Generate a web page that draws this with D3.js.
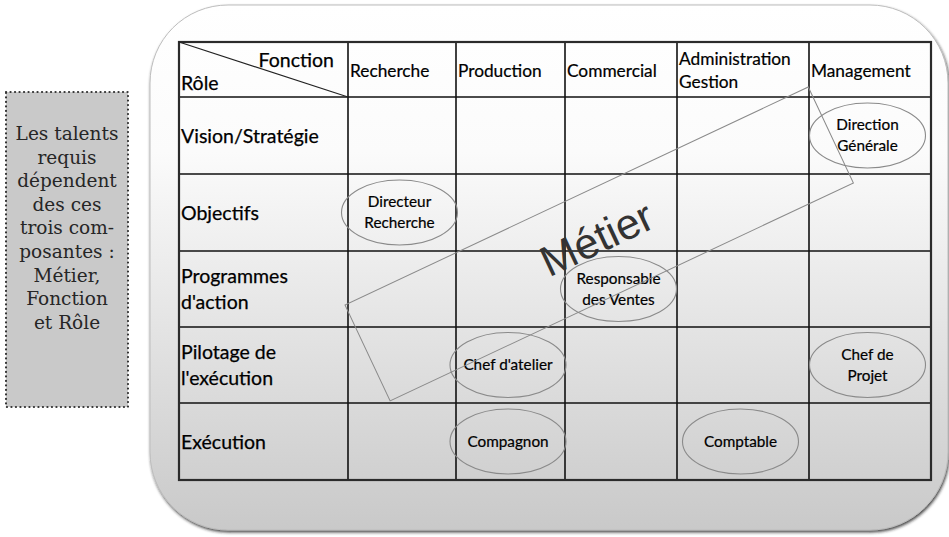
<!DOCTYPE html>
<html>
<head>
<meta charset="utf-8">
<script src="https://cdn.jsdelivr.net/npm/d3@7"></script>
<style>
html,body{margin:0;padding:0;background:#ffffff;}
svg{display:block;}
</style>
</head>
<body>
<svg id="chart" width="949" height="537"></svg>
<script>
// ---- data ----
const functions = ["Recherche", "Production", "Commercial", "Administration\nGestion", "Management"];
const roles = ["Vision/Stratégie", "Objectifs", "Programmes\nd'action", "Pilotage de\nl'exécution", "Exécution"];
const jobLabels = ["Direction\nGénérale", "Directeur\nRecherche", "Responsable\ndes Ventes", "Chef d'atelier", "Chef de\nProjet", "Compagnon", "Comptable"];
const jobRoles = ["Vision/Stratégie", "Objectifs", "Programmes\nd'action", "Pilotage de\nl'exécution", "Pilotage de\nl'exécution", "Exécution", "Exécution"];
const jobFunctions = ["Management", "Recherche", "Commercial", "Production", "Management", "Production", "Administration\nGestion"];
const cornerTop = "Fonction";
const cornerBottom = "Rôle";
const overlayLabel = "Métier";
const sideNote = ["Les talents", "requis", "dépendent", "des ces", "trois com-", "posantes :", "Métier,", "Fonction", "et Rôle"];

// ---- layout ----
const svg = d3.select("#chart");
const defs = svg.append("defs");
const grad = defs.append("linearGradient").attr("id", "bg").attr("x1", 0).attr("y1", 0).attr("x2", 0).attr("y2", 1);
grad.append("stop").attr("offset", "0%").attr("stop-color", "#ffffff");
grad.append("stop").attr("offset", "28%").attr("stop-color", "#fbfbfb");
grad.append("stop").attr("offset", "100%").attr("stop-color", "#c9c9c9");
const shadow = defs.append("filter").attr("id", "sh").attr("x", "-5%").attr("y", "-5%").attr("width", "112%").attr("height", "115%");
shadow.append("feDropShadow").attr("dx", 1).attr("dy", 2).attr("stdDeviation", 1.6)
  .attr("flood-color", "#222").attr("flood-opacity", 0.8);

// side note box
const note = svg.append("g");
note.append("rect").attr("x", 6).attr("y", 92).attr("width", 122).attr("height", 315)
  .attr("fill", "#c9c9c9").attr("stroke", "#333").attr("stroke-width", 2.2)
  .attr("stroke-dasharray", "0.1,4.4").attr("stroke-linecap", "round");
note.selectAll("text").data(sideNote).join("text")
  .attr("x", 67).attr("y", (d, i) => 140 + i * 23.6)
  .attr("text-anchor", "middle")
  .attr("font-family", "DejaVu Serif, serif").attr("font-size", 18.5)
  .attr("fill", "#262626").text(d => d);

// frame
svg.append("rect").attr("x", 150).attr("y", 5).attr("width", 798).attr("height", 525)
  .attr("rx", 78).attr("ry", 78)
  .attr("fill", "url(#bg)").attr("stroke", "#bdbdbd").attr("stroke-width", 1)
  .attr("filter", "url(#sh)");

// scales
const colEdges = [179, 348, 456, 565, 677, 809, 931];
const rowEdges = [42, 97, 174, 251, 327, 403, 480];
const xCol = d3.scaleOrdinal().domain(["__corner"].concat(functions)).range(colEdges.slice(0, 6));
const xColEnd = d3.scaleOrdinal().domain(["__corner"].concat(functions)).range(colEdges.slice(1));
const yRow = d3.scaleOrdinal().domain(["__header"].concat(roles)).range(rowEdges.slice(0, 6));
const yRowEnd = d3.scaleOrdinal().domain(["__header"].concat(roles)).range(rowEdges.slice(1));

const table = svg.append("g");
table.selectAll("line.v").data(functions).join("line")
  .attr("x1", d => xCol(d)).attr("x2", d => xCol(d))
  .attr("y1", rowEdges[0]).attr("y2", rowEdges[6])
  .attr("stroke", "#111").attr("stroke-width", 1.6);
table.selectAll("line.h").data(roles).join("line")
  .attr("y1", d => yRow(d)).attr("y2", d => yRow(d))
  .attr("x1", colEdges[0]).attr("x2", colEdges[6])
  .attr("stroke", "#111").attr("stroke-width", 1.6);
table.append("rect").attr("x", colEdges[0]).attr("y", rowEdges[0])
  .attr("width", colEdges[6] - colEdges[0]).attr("height", rowEdges[6] - rowEdges[0])
  .attr("fill", "none").attr("stroke", "#2b2b2b").attr("stroke-width", 2.2);
table.append("line")
  .attr("x1", colEdges[0]).attr("y1", rowEdges[0]).attr("x2", colEdges[1]).attr("y2", rowEdges[1])
  .attr("stroke", "#222").attr("stroke-width", 1.3);

const sans = "Lato, 'Open Sans', sans-serif";
table.append("text").attr("x", 334).attr("y", 67).attr("text-anchor", "end")
  .attr("font-family", sans).attr("font-size", 19.5).attr("fill", "#000")
  .attr("stroke", "#000").attr("stroke-width", 0.25).text(cornerTop);
table.append("text").attr("x", 181).attr("y", 90)
  .attr("font-family", sans).attr("font-size", 19.5).attr("fill", "#000")
  .attr("stroke", "#000").attr("stroke-width", 0.25).text(cornerBottom);

functions.forEach(f => {
  const lines = f.split("\n");
  const t = table.append("text").attr("font-family", sans).attr("font-size", 17.3).attr("fill", "#000")
    .attr("stroke", "#000").attr("stroke-width", 0.2);
  const baseY = lines.length === 1 ? 77 : 65;
  lines.forEach((ln, i) => {
    t.append("tspan").attr("x", xCol(f) + 2).attr("y", baseY + i * 23).text(ln);
  });
});

roles.forEach(r => {
  const lines = r.split("\n");
  const mid = (yRow(r) + yRowEnd(r)) / 2;
  const t = table.append("text").attr("font-family", sans).attr("font-size", 19.5).attr("fill", "#000")
    .attr("stroke", "#000").attr("stroke-width", 0.25);
  const first = lines.length === 1 ? mid + 7 : mid - 6;
  lines.forEach((ln, i) => {
    t.append("tspan").attr("x", colEdges[0] + 2).attr("y", first + i * 26).text(ln);
  });
});

const jobs = jobLabels.map((l, i) => ({label: l, role: jobRoles[i], fn: jobFunctions[i]}));
const jg = svg.append("g");
jobs.forEach(j => {
  const cx = (xCol(j.fn) + xColEnd(j.fn)) / 2 - 2.5;
  const cy = (yRow(j.role) + yRowEnd(j.role)) / 2;
  jg.append("ellipse").attr("cx", cx).attr("cy", cy).attr("rx", 58).attr("ry", 32.5)
    .attr("fill", "none").attr("stroke", "#8a8a8a").attr("stroke-width", 1.1);
  const lines = j.label.split("\n");
  const t = jg.append("text").attr("text-anchor", "middle").attr("font-family", sans)
    .attr("font-size", 15.3).attr("fill", "#000").attr("stroke", "#000").attr("stroke-width", 0.2);
  lines.forEach((ln, i) => {
    t.append("tspan").attr("x", cx).attr("y", cy + 5 + (i - (lines.length - 1) / 2) * 21).text(ln);
  });
});

const band = svg.append("g").attr("transform", "translate(345,305) rotate(-25.2)");
band.append("rect").attr("x", 0).attr("y", 0).attr("width", 512).attr("height", 106)
  .attr("fill", "none").attr("stroke", "#8a8a8a").attr("stroke-width", 1);
svg.append("text").attr("transform", "translate(603,252) rotate(-25.2)")
  .attr("text-anchor", "middle").attr("font-family", "Liberation Sans, Arial, sans-serif")
  .attr("font-size", 43).attr("fill", "#333").text(overlayLabel);
</script>
</body>
</html>
